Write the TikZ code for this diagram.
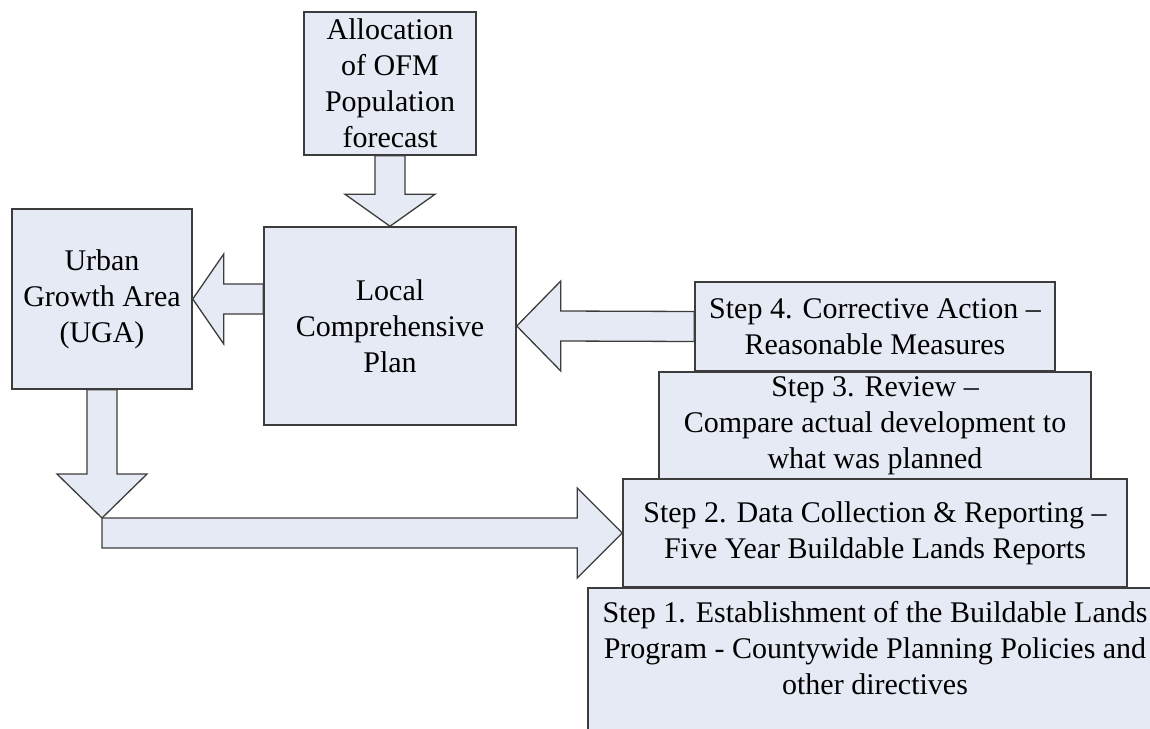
\documentclass[tikz,border=0pt]{standalone}
\usepackage{fontspec}
\setmainfont{Liberation Serif}
\usetikzlibrary{calc}

\definecolor{boxfill}{RGB}{229,234,245}
\definecolor{boxline}{RGB}{60,60,60}

\tikzset{
  planbox/.style={draw=boxline,fill=boxfill,line width=1.5pt,inner sep=0pt,
    align=center,font=\fontsize{30}{36}\selectfont},
  fatarrow/.style={draw=boxline,fill=boxfill,line width=1.3pt,line join=miter}
}

\begin{document}
\begin{tikzpicture}[x=1pt,y=-1pt]
        \path[use as bounding box] (0,0) rectangle (1150,728);
        \clip (0,0) rectangle (1150,728);
        % planning boxes
        \node[planbox,minimum width=172pt,minimum height=143pt] (alloc) at (390,83.5)
          {Allocation\\of OFM\\Population\\forecast};
        \node[planbox,minimum width=180pt,minimum height=180pt] (uga) at (102,299)
          {Urban\\Growth Area\\(UGA)};
        \node[planbox,minimum width=252pt,minimum height=198pt] (lcp) at (390,326)
          {Local\\Comprehensive\\Plan};
        % the four steps, stacked
        \node[planbox,minimum width=360pt,minimum height=89pt] (stepfour) at (875,326.5)
          {Step 4. Corrective Action --\\Reasonable Measures};
        \node[planbox,minimum width=432pt,minimum height=107pt] (stepthree) at (875,425.5)
          {Step 3. Review --\\Compare actual development to\\what was planned};
        \node[planbox,minimum width=504pt,minimum height=108pt] (steptwo) at (875,533)
          {Step 2. Data Collection \& Reporting --\\Five Year Buildable Lands Reports};
        \node[planbox,anchor=north,minimum width=574pt,inner ysep=14pt,text depth=52pt] (stepone) at (875,587)
          {Step 1. Establishment of the Buildable Lands\\Program - Countywide Planning Policies and\\other directives};
        \coordinate (bend) at (uga.south |- steptwo.west);
        % block arrows
        \draw[fatarrow] ($(alloc.south)+(-15,0)$) -- ($(lcp.north)+(-15,-32)$) -- ($(lcp.north)+(-45,-32)$)
          -- (lcp.north) -- ($(lcp.north)+(45,-32)$) -- ($(lcp.north)+(15,-32)$) -- ($(alloc.south)+(15,0)$) -- cycle;
        \draw[fatarrow] ($(lcp.west |- uga.east)+(0,-15)$) -- ($(uga.east)+(31,-15)$) -- ($(uga.east)+(31,-45)$)
          -- (uga.east) -- ($(uga.east)+(31,45)$) -- ($(uga.east)+(31,15)$) -- ($(lcp.west |- uga.east)+(0,15)$) -- cycle;
        \draw[fatarrow] ($(stepfour.west)+(0,-15)$) -- ($(lcp.east)+(44,-15)$) -- ($(lcp.east)+(44,-45)$)
          -- (lcp.east) -- ($(lcp.east)+(44,45)$) -- ($(lcp.east)+(44,15)$) -- ($(stepfour.west)+(0,15)$) -- cycle;
        \draw[fatarrow] ($(uga.south)+(-15,0)$) -- ($(bend)+(-15,-59)$) -- ($(bend)+(-45,-59)$)
          -- ($(bend)+(0,-15)$) -- ($(bend)+(45,-59)$) -- ($(bend)+(15,-59)$) -- ($(uga.south)+(15,0)$) -- cycle;
        \draw[fatarrow] ($(bend)+(0,-15)$) -- ($(steptwo.west)+(-45,-15)$) -- ($(steptwo.west)+(-45,-45)$)
          -- (steptwo.west) -- ($(steptwo.west)+(-45,45)$) -- ($(steptwo.west)+(-45,15)$) -- ($(bend)+(0,15)$) -- cycle;
      \end{tikzpicture}
\end{document}
